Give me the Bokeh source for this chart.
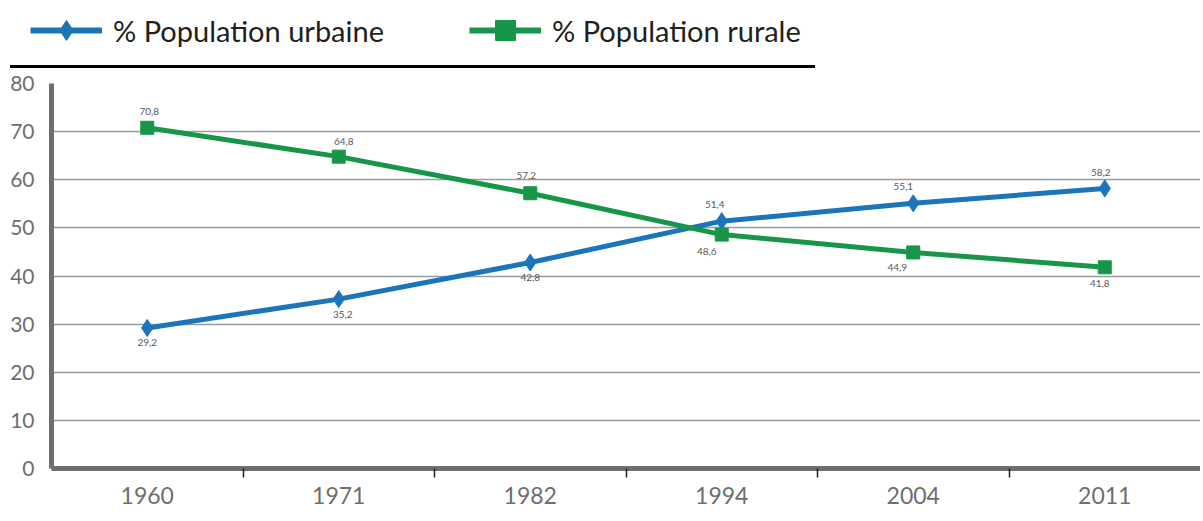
from bokeh.plotting import figure
from bokeh.models import Range1d, FixedTicker, Legend, LegendItem, Div
from bokeh.layouts import column, row
from bokeh.embed import file_html
from bokeh.resources import INLINE
from bokeh.core.properties import value

# ---- data ----
years = ["1960", "1971", "1982", "1994", "2004", "2011"]
urban = [29.2, 35.2, 42.8, 51.4, 55.1, 58.2]
rural = [70.8, 64.8, 57.2, 48.6, 44.9, 41.8]
y_ticks = [0, 10, 20, 30, 40, 50, 60, 70, 80]
series_names = ["% Population urbaine", "% Population rurale"]

# ---- style ----
BLUE = "#1b75bb"
GREEN = "#17964a"
GREY = "#6d6e71"
GRID = "#9a9b9e"
FONT = "Lato"
urban_label_dy = [15, 15, 15, -17, -17, -16]
rural_label_dy = [-16, -15, -18, 17, 15, 16]
urban_label_dx = [0, 4, 0, -7, -10, -4]
rural_label_dx = [2, 5, -4, -15, -16, -5]

xs = [i + 0.5 for i in range(len(years))]
fmt = lambda v: f"{v:.1f}".replace(".", ",")

# ---- top legend strip ----
top = figure(width=830, height=65, x_range=Range1d(0, 1), y_range=Range1d(0, 1),
             output_backend="svg", toolbar_location=None,
             x_axis_location=None, y_axis_location=None,
             min_border_left=10, min_border_right=0, min_border_top=0, min_border_bottom=0)
top.outline_line_color = None
top.grid.visible = False

# legend proxies (data lies outside this strip's view)
lu = top.line(xs, urban, line_width=6, line_color=BLUE)
su = top.scatter(xs, urban, marker="diamond", size=20, color=BLUE)
lr = top.line(xs, rural, line_width=6, line_color=GREEN)
sr = top.scatter(xs, rural, marker="square", size=14, color=GREEN)

for name, rends, loc in [(series_names[0], [lu, su], (20, 10)),
                         (series_names[1], [lr, sr], (459, 10))]:
    leg = Legend(items=[LegendItem(label=name, renderers=rends)], location=loc,
                 background_fill_alpha=0, border_line_color=None, padding=0, margin=0,
                 glyph_width=72, glyph_height=50, label_standoff=11,
                 label_text_font_size="29px", label_text_font=FONT,
                 label_text_color="#231f20", label_text_baseline="middle")
    top.add_layout(leg)

rule = Div(text="", width=805, height=3, margin=(0, 0, 0, 10),
           styles={"background-color": "#000000"})

# ---- main chart ----
p = figure(frame_width=1149, frame_height=385, x_range=Range1d(0, len(years)), y_range=Range1d(0, 80),
           output_backend="svg", toolbar_location=None,
           min_border_left=51, min_border_right=0, min_border_top=15, min_border_bottom=45)
p.outline_line_color = None
p.xgrid.visible = False
p.ygrid.ticker = FixedTicker(ticks=y_ticks)
p.ygrid.grid_line_color = GRID
p.ygrid.grid_line_width = 1.5

p.yaxis.ticker = FixedTicker(ticks=y_ticks)
p.yaxis.axis_line_color = GREY
p.yaxis.axis_line_width = 5
p.yaxis.major_tick_line_color = None
p.yaxis.minor_tick_line_color = None
p.yaxis.major_tick_out = 0
p.yaxis.major_label_text_font_size = "21px"
p.yaxis.major_label_text_font = FONT
p.yaxis.major_label_text_color = GREY
p.yaxis.major_label_standoff = 17

p.xaxis.ticker = FixedTicker(ticks=xs, minor_ticks=[i for i in range(1, len(years))])
p.xaxis.major_label_overrides = {x: y for x, y in zip(xs, years)}
p.xaxis.axis_line_color = GREY
p.xaxis.axis_line_width = 5
p.xaxis.major_tick_line_color = None
p.xaxis.minor_tick_line_color = "#231f20"
p.xaxis.minor_tick_line_width = 1.5
p.xaxis.minor_tick_in = 0
p.xaxis.minor_tick_out = 9
p.xaxis.major_label_text_font_size = "23px"
p.xaxis.major_label_text_font = FONT
p.xaxis.major_label_text_color = GREY
p.xaxis.major_label_standoff = 9

p.line(xs, urban, line_width=5, line_color=BLUE)
p.scatter(xs, urban, marker="diamond", size=17, color=BLUE)
p.line(xs, rural, line_width=5, line_color=GREEN)
p.scatter(xs, rural, marker="square", size=13, color=GREEN)

for vals, dys, dxs in [(urban, urban_label_dy, urban_label_dx), (rural, rural_label_dy, rural_label_dx)]:
    for x, v, dy, dx in zip(xs, vals, dys, dxs):
        p.text(x=[x], y=[v], text=[fmt(v)], x_offset=dx, y_offset=dy,
               text_font=value(FONT), text_font_size="10px", text_color="#58595b",
               text_align="center", text_baseline="middle")

layout = column(row(top), rule, p, spacing=0)
open("out.html", "w").write(file_html(layout, INLINE))
